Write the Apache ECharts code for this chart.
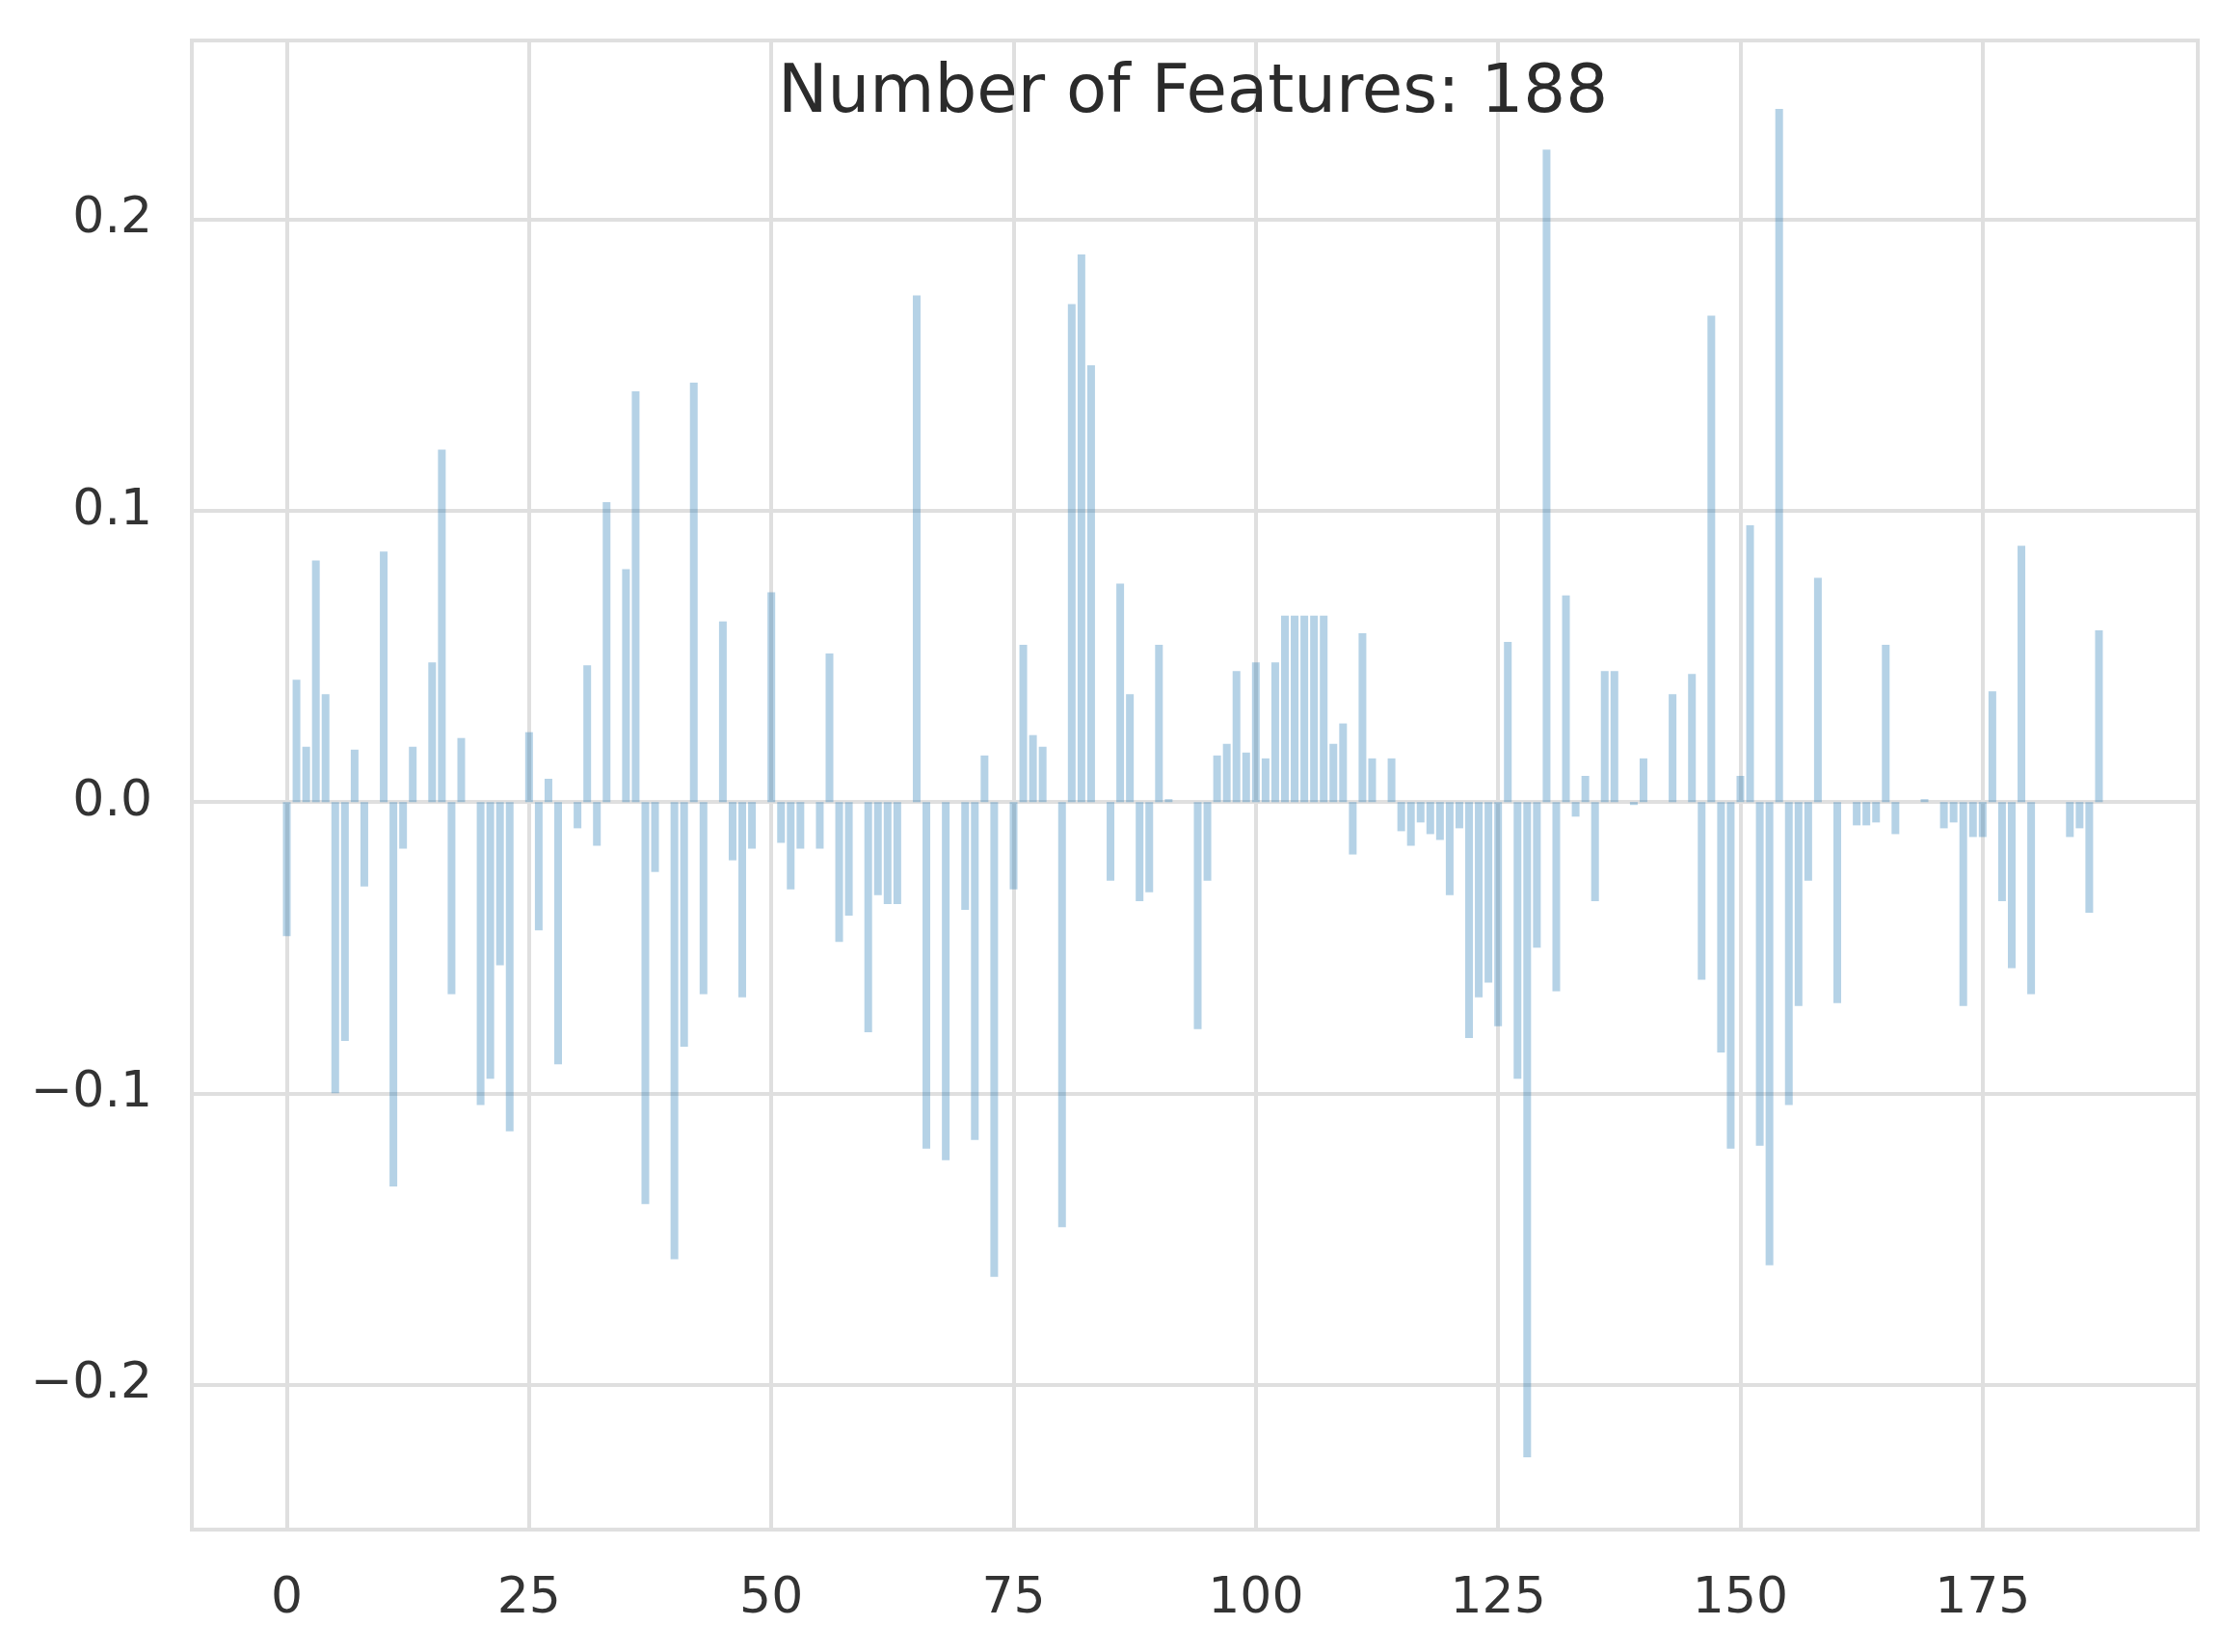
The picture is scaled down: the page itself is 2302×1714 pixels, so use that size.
<!DOCTYPE html>
<html>
<head>
<meta charset="utf-8">
<title>Number of Features: 188</title>
<script src="https://cdn.jsdelivr.net/npm/echarts@6/dist/echarts.min.js"></script>
<style>
  html, body { margin: 0; padding: 0; background: #fff; }
  #chart { width: 2302px; height: 1714px; }
</style>
</head>
<body>
<div id="chart"></div>
<script>
// one coefficient per feature (index 0..187)
var weights = [
  -0.046, 0.042, 0.019, 0.083, 0.037, -0.100, -0.082, 0.018, -0.029, 0,
  0.086, -0.132, -0.016, 0.019, 0, 0.048, 0.121, -0.066, 0.022, 0,
  -0.104, -0.095, -0.056, -0.113, 0, 0.024, -0.044, 0.008, -0.090, 0,
  -0.009, 0.047, -0.015, 0.103, 0, 0.080, 0.141, -0.138, -0.024, 0,
  -0.157, -0.084, 0.144, -0.066, 0, 0.062, -0.020, -0.067, -0.016, 0,
  0.072, -0.014, -0.030, -0.016, 0, -0.016, 0.051, -0.048, -0.039, 0,
  -0.079, -0.032, -0.035, -0.035, 0, 0.174, -0.119, 0, -0.123, 0,
  -0.037, -0.116, 0.016, -0.163, 0, -0.030, 0.054, 0.023, 0.019, 0,
  -0.146, 0.171, 0.188, 0.150, 0, -0.027, 0.075, 0.037, -0.034, -0.031,
  0.054, 0.001, 0, 0, -0.078, -0.027, 0.016, 0.020, 0.045, 0.017,
  0.048, 0.015, 0.048, 0.064, 0.064, 0.064, 0.064, 0.064, 0.020, 0.027,
  -0.018, 0.058, 0.015, 0, 0.015, -0.010, -0.015, -0.007, -0.011, -0.013,
  -0.032, -0.009, -0.081, -0.067, -0.062, -0.077, 0.055, -0.095, -0.225, -0.050,
  0.224, -0.065, 0.071, -0.005, 0.009, -0.034, 0.045, 0.045, 0, -0.001,
  0.015, 0, 0, 0.037, 0, 0.044, -0.061, 0.167, -0.086, -0.119,
  0.009, 0.095, -0.118, -0.159, 0.238, -0.104, -0.070, -0.027, 0.077, 0,
  -0.069, 0, -0.008, -0.008, -0.007, 0.054, -0.011, 0, 0, 0.001,
  0, -0.009, -0.007, -0.070, -0.012, -0.012, 0.038, -0.034, -0.057, 0.088,
  -0.066, 0, 0, 0, -0.012, -0.009, -0.038, 0.059
];
var xTicks = [0, 25, 50, 75, 100, 125, 150, 175];
var yTicks = [-0.2, -0.1, 0, 0.1, 0.2];
var titleText = 'Number of Features: ' + weights.length;

var barData = weights.map(function (v, i) { return [i, v]; });

var gridColor = '#dfdfdf';
var labelColor = '#333333';

var myChart = echarts.init(document.getElementById('chart'), null, { renderer: 'canvas' });
var option = {
  backgroundColor: '#ffffff',
  animation: false,
  title: {
    text: titleText,
    left: 807,
    top: 64,
    padding: 0,
    textStyle: {
      color: '#2b2b2b',
      fontFamily: 'DejaVu Sans',
      fontWeight: 'normal',
      fontSize: 69
    }
  },
  grid: {
    left: 199,
    right: 22,
    top: 42,
    bottom: 127,
    show: true,
    borderColor: gridColor,
    borderWidth: 4,
    backgroundColor: 'transparent'
  },
  xAxis: {
    type: 'value',
    min: -9.8,
    max: 197.2,
    axisLine: { show: false },
    axisTick: { show: false, customValues: xTicks },
    axisLabel: {
      customValues: xTicks,
      margin: 46,
      color: labelColor,
      fontFamily: 'DejaVu Sans',
      fontSize: 52
    },
    splitLine: { show: true, lineStyle: { color: gridColor, width: 4 } }
  },
  yAxis: {
    type: 'value',
    min: -0.2498,
    max: 0.2615,
    axisLine: { show: false },
    axisTick: { show: false, customValues: yTicks },
    axisLabel: {
      customValues: yTicks,
      margin: 41,
      color: labelColor,
      fontFamily: 'DejaVu Sans',
      fontSize: 52,
      formatter: function (v) { return v.toFixed(1).replace('-', '\u2212'); }
    },
    splitLine: { show: true, lineStyle: { color: gridColor, width: 4 } }
  },
  series: [{
    type: 'bar',
    data: barData,
    barWidth: 8,
    itemStyle: { color: 'rgba(31,119,180,0.33)' },
    z: 3
  }]
};
myChart.setOption(option);
</script>
</body>
</html>
